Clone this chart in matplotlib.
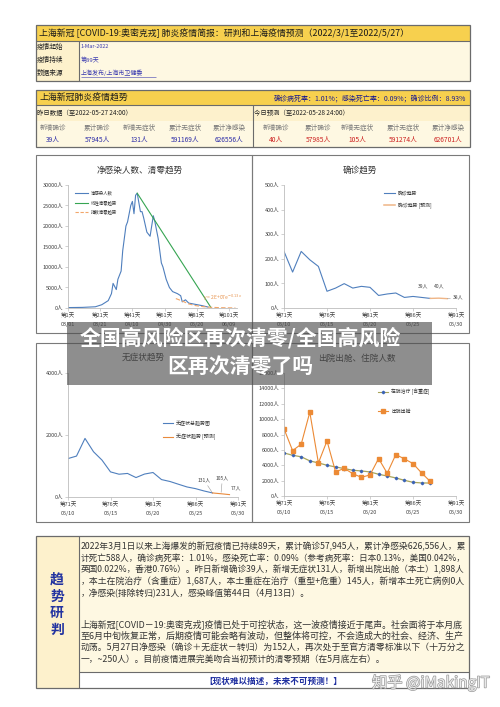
import matplotlib
matplotlib.use('Agg')
import matplotlib.pyplot as plt
from matplotlib.patches import Rectangle
import matplotlib.patheffects as pe

plt.rcParams['font.family'] = ['Noto Sans CJK SC', 'DejaVu Sans']

# ---------------- data ----------------
net_days = [1, 10, 18, 22, 26, 28, 29, 31, 32, 34, 35, 37, 38, 40, 41, 42, 43, 44, 46, 47,
            48, 50, 52, 54, 55, 57, 59, 60, 62, 64, 66, 69, 71, 72, 74, 76, 80, 84, 88]
net_vals = [100, 150, 300, 800, 1800, 3500, 6000, 4500, 7000, 9000, 14000, 20000, 21000, 25000,
            26000, 23000, 27500, 28000, 23500, 23500, 22000, 18500, 17500, 22500, 21000, 17000,
            11000, 10000, 7000, 5000, 4000, 3500, 3000, 1500, 2000, 1200, 900, 600, 231]
lin_days = [44, 90]
lin_vals = [28000, 0]
exp_days = [68, 72, 76, 80, 85, 90, 95, 100, 105]
exp_vals = [2300, 1700, 1000, 600, 320, 170, 90, 45, 25]
net_ticks = [1, 21, 41, 61, 81, 101]
net_dates = ['03/01', '03/21', '04/10', '04/30', '05/20', '06/09']

days = list(range(71, 89))
conf_vals = [230, 146, 230, 196, 169, 68, 81, 99, 81, 88, 84, 51, 57, 61, 43, 47, 43, 39]
conf_fc_days = [88, 89, 90]
conf_fc_vals = [39, 40, 38]

asym_vals = [1240, 1320, 1890, 1460, 1190, 810, 735, 760, 627, 740, 790, 562, 500, 411, 324, 270, 195, 131]
asym_fc_days = [88, 89, 90]
asym_fc_vals = [131, 105, 77]

hosp_vals = [5600, 5300, 5100, 4570, 4300, 4000, 3780, 3570, 3350, 3260, 3130, 2830, 2600, 2350,
             2040, 1780, 1700, 1687]
disc_vals = [8740, 5910, 6740, 10900, 4300, 7170, 3130, 3600, 2900, 2430, 2740, 4870, 2960, 5390,
             4830, 4220, 3000, 1898]

late_ticks = [71, 76, 81, 86, 91]
late_dates = ['05/10', '05/15', '05/20', '05/25', '05/30']

y_cols = ['新增确诊', '累计确诊', '新增无症状', '累计无症状', '累计净感染']
y_vals = ['39人', '57945人', '131人', '591169人', '626556人']
t_vals = ['40人', '57985人', '105人', '591274人', '626701人']

# ---------------- figure ----------------
W, H = 500, 707
fig = plt.figure(figsize=(5, 7.07), dpi=100)
fig.patch.set_facecolor('white')

bg = fig.add_axes([0, 0, 1, 1], zorder=0)
bg.set_xlim(0, W); bg.set_ylim(H, 0); bg.axis('off')
ov = fig.add_axes([0, 0, 1, 1], zorder=10)
ov.set_xlim(0, W); ov.set_ylim(H, 0); ov.axis('off'); ov.patch.set_alpha(0)

YEL = '#f7d04e'
CREAM = '#fdf1cc'
CREAM2 = '#fef8e2'
EDGE = '#6b6b6b'


def rect(ax, x0, y0, x1, y1, fc='none', ec='none', lw=0.8, **kw):
    ax.add_patch(Rectangle((x0, y0), x1 - x0, y1 - y0, facecolor=fc, edgecolor=ec,
                           linewidth=lw, **kw))


def hline(ax, x0, x1, y, c=EDGE, lw=0.8):
    ax.plot([x0, x1], [y, y], color=c, lw=lw, solid_capstyle='butt')


def vline(ax, x, y0, y1, c=EDGE, lw=0.8):
    ax.plot([x, x], [y0, y1], color=c, lw=lw, solid_capstyle='butt')


def txt(ax, x, y, s, size=5, color='#222222', ha='left', va='center', **kw):
    return ax.text(x, y, s, fontsize=size, color=color, ha=ha, va=va, **kw)


# ---- top info box ----
rect(bg, 36, 25, 470, 41, fc=YEL)
rect(bg, 36, 41, 470, 81, fc=CREAM2)
rect(bg, 36, 41, 79, 81, fc=CREAM)
rect(bg, 36, 25, 470, 81, ec=EDGE, lw=0.9)
hline(bg, 36, 470, 41)
vline(bg, 79, 41, 81)
txt(bg, 39, 33, '上海新冠 [COVID-19:奥密克戎] 肺炎疫情简报：研判和上海疫情预测（2022/3/1至2022/5/27）',
    size=6.4, color='#1a1a1a')
for yy, s in zip([47, 60, 73], ['疫情起始', '疫情持续', '数据来源']):
    txt(bg, 37, yy, s, size=4.8)
txt(bg, 81, 47, '1-Mar-2022', size=3.9, color='#3b3bb0')
txt(bg, 81, 60, '第89天', size=4.3, color='#3b3bb0')
lk = txt(bg, 81, 73, '上海发布/上海市卫健委', size=4.3, color='#3b3bb0')
hline(bg, 81, 156, 76.8, c='#3b3bb0', lw=0.4)

# ---- trend box ----
rect(bg, 36, 90, 470, 105, fc=YEL)
rect(bg, 36, 105, 470, 121, fc=CREAM)
rect(bg, 36, 121, 470, 147, fc=CREAM2)
rect(bg, 36, 90, 470, 147, ec=EDGE, lw=0.9)
hline(bg, 36, 470, 105)
vline(bg, 253, 105, 147)
txt(bg, 39, 98, '上海新冠肺炎疫情趋势', size=6.4, color='#1a1a1a')
txt(bg, 466, 98, '确诊病死率：1.01%；感染死亡率：0.09%；确诊比例：8.93%', size=5.0,
    color='#1c1c8e', ha='right')
txt(bg, 37, 113, '昨日数据（至2022-05-27 24:00）', size=4.6)
txt(bg, 254, 113, '今日预测（至2022-05-28 24:00）', size=4.6)
lx = [53, 97, 139, 185, 229]
rx = [276, 318, 357, 403, 448]
for i in range(5):
    txt(bg, lx[i], 128, y_cols[i], size=4.8, color='#7a7a7a', ha='center')
    txt(bg, rx[i], 128, y_cols[i], size=4.8, color='#7a7a7a', ha='center')
    txt(bg, lx[i], 140, y_vals[i], size=4.8, color='#2b2ba8', ha='center')
    txt(bg, rx[i], 140, t_vals[i], size=4.8, color='#cc2020', ha='center')

# ---- chart frames ----
for (x0, y0, x1, y1) in [(36, 155, 252, 333), (252, 155, 469, 333),
                         (36, 343, 252, 522), (252, 343, 469, 522)]:
    rect(bg, x0, y0, x1, y1, ec='#7a7a7a', lw=0.8)

TITLE_C = '#333333'
txt(bg, 140, 170, '净感染人数、清零趋势', size=6.2, color=TITLE_C, ha='center')
txt(bg, 360, 170, '确诊趋势', size=6.2, color=TITLE_C, ha='center')
txt(bg, 143, 357, '无症状趋势', size=6.2, color=TITLE_C, ha='center')
txt(bg, 357, 358, '出院出舱、住院人数', size=6.2, color=TITLE_C, ha='center')


def add_chart(x0, x1, y0, y1):
    a = fig.add_axes([x0 / W, 1 - y1 / H, (x1 - x0) / W, (y1 - y0) / H], zorder=2)
    a.patch.set_alpha(0)
    for s in ['top', 'right']:
        a.spines[s].set_visible(False)
    for s in ['left', 'bottom']:
        a.spines[s].set_color('#bdbdbd')
        a.spines[s].set_linewidth(0.6)
    a.tick_params(labelsize=4, colors='#bdbdbd', labelcolor='#404040', length=2,
                  width=0.5, pad=1.5)
    return a


def set_yticks(a, ticks):
    a.set_yticks(ticks)
    a.set_yticklabels([f'{t}人' for t in ticks])


def set_xticks(a, ticks, first, dates):
    a.set_xticks(ticks)
    a.set_xticklabels([f'第{t - first + 1 if first == 1 else t}天\n{d}' for t, d in zip(ticks, dates)])
    for lbl in a.get_xticklabels():
        lbl.set_linespacing(1.9)


BLUE = '#4f7fbd'

# ---- chart 1 ----
ax1 = add_chart(68, 237, 185, 308)
ax1.plot(net_days, net_vals, color=BLUE, lw=0.8)
ax1.plot(lin_days, lin_vals, color='#36a552', lw=0.8)
ax1.plot(exp_days, exp_vals, color='#f2a66a', lw=0.8, dashes=(4, 2))
ax1.set_xlim(1, 106); ax1.set_ylim(0, 30000)
set_yticks(ax1, list(range(0, 30001, 5000)))
set_xticks(ax1, net_ticks, 1, net_dates)
ax1.text(0.8, 0.085, r'y = 2E+07e$^{-0.13x}$', transform=ax1.transAxes, fontsize=3.6,
         color='#e8944f', ha='left', va='center')

# ---- chart 2 ----
ax2 = add_chart(284, 456, 185, 308)
ax2.plot(days, conf_vals, color=BLUE, lw=0.8)
ax2.plot(conf_fc_days, conf_fc_vals, color='#efb586', lw=1.0)
ax2.set_xlim(71, 91); ax2.set_ylim(0, 500)
set_yticks(ax2, list(range(0, 501, 100)))
set_xticks(ax2, late_ticks, 71, late_dates)
ax2.annotate('39人', (88, 39), xytext=(-5, 8), textcoords='offset points', fontsize=3.6,
             color='#404040', ha='center')
ax2.annotate('40人', (89, 40), xytext=(0, 8), textcoords='offset points', fontsize=3.6,
             color='#404040', ha='center')
ax2.annotate('38人', (90, 38), xytext=(8, 1), textcoords='offset points', fontsize=3.6,
             color='#404040', ha='center', va='center',
             arrowprops=dict(arrowstyle='-', color='#999999', lw=0.4, shrinkA=3, shrinkB=0))

# ---- chart 3 ----
ax3 = add_chart(68, 238, 373, 497)
ax3.plot(days, asym_vals, color=BLUE, lw=0.8)
ax3.plot(asym_fc_days, asym_fc_vals, color='#e98a3c', lw=0.8)
ax3.set_xlim(71, 91); ax3.set_ylim(0, 4000)
set_yticks(ax3, [0, 2000, 4000])
set_xticks(ax3, late_ticks, 71, late_dates)
ax3.annotate('131人', (88, 131), xytext=(-6, 8), textcoords='offset points', fontsize=3.6,
             color='#404040', ha='center',
             arrowprops=dict(arrowstyle='-', color='#999999', lw=0.4, shrinkA=0, shrinkB=1))
ax3.annotate('105人', (89, 105), xytext=(1, 10), textcoords='offset points', fontsize=3.6,
             color='#404040', ha='center',
             arrowprops=dict(arrowstyle='-', color='#999999', lw=0.4, shrinkA=0, shrinkB=1))
ax3.annotate('77人', (90, 77), xytext=(5, 4), textcoords='offset points', fontsize=3.6,
             color='#404040', ha='center')

# ---- chart 4 ----
ax4 = add_chart(284, 456, 373, 496)
ax4.plot(days, hosp_vals, color='#a8a45a', lw=0.9, marker='D', ms=1.3, mfc='#3a62b5',
         mec='#3a62b5')
ax4.plot(days, disc_vals, color='#ec8a35', lw=0.8, marker='s', ms=2.6, mfc='#ec8a35',
         mec='#ec8a35')
ax4.set_xlim(71, 91); ax4.set_ylim(0, 16000)
set_yticks(ax4, list(range(0, 16001, 2000)))
set_xticks(ax4, late_ticks, 71, late_dates)

# ---- legends (drawn on background layer) ----
def leg(x0, x1, y, color, label, size, dashes=None, marker=None, ms=2, mfc=None, lw=0.8):
    kw = {}
    if dashes:
        kw['dashes'] = dashes
    bg.plot([x0, x1], [y, y], color=color, lw=lw, **kw)
    if marker:
        bg.plot([(x0 + x1) / 2], [y], marker=marker, ms=ms, color=mfc or color, lw=0)
    txt(bg, x1 + 3, y, label, size=size, color='#333333')


leg(75, 88, 193, BLUE, '净感染人数', 3.2)
leg(75, 88, 203, '#36a552', '线性清零趋势', 3.2)
leg(75, 88, 212, '#f2a66a', '指数清零趋势', 3.2, dashes=(3, 1.5))
leg(384, 395, 193, BLUE, '确诊趋势', 3.5)
leg(384, 395, 205, '#efb586', '确诊趋势 [预测]', 3.5, lw=1.1)
leg(163, 173, 423, BLUE, '无症状总趋势图', 3.6)
leg(163, 173, 437, '#e98a3c', '无症状趋势 [预测]', 3.6)
leg(378, 388, 392, '#a8a45a', '在院治疗 [含重症]', 3.5, marker='D', ms=1.3, mfc='#3a62b5')
leg(378, 388, 411, '#ec8a35', '出院出舱', 3.5, marker='s', ms=2.6)

# ---- analysis box ----
rect(bg, 36, 536, 79, 688, fc=CREAM)
rect(bg, 79, 536, 469, 672, fc=CREAM2)
rect(bg, 79, 672, 469, 688, fc='white')
rect(bg, 36, 536, 469, 688, ec=EDGE, lw=0.9)
vline(bg, 79, 536, 688)
hline(bg, 79, 469, 672)
for yy, ch in zip([580, 597, 613, 630], '趋势研判'):
    txt(bg, 57, yy, ch, size=10, color='#2233a0', ha='center', weight='bold')

p1 = ['2022年3月1日以来上海爆发的新冠疫情已持续89天，累计确诊57,945人，累计净感染626,556人，累',
      '计死亡588人，确诊病死率：1.01%，感染死亡率：0.09%（参考病死率：日本0.13%，美国0.042%，',
      '英国0.022%，香港0.76%）。昨日新增确诊39人，新增无症状131人，新增出院出舱（本土）1,898人',
      '，本土在院治疗（含重症）1,687人，本土重症在治疗（重型+危重）145人，新增本土死亡病例0人',
      '，净感染(排除转归)231人，感染峰值第44日（4月13日）。']
p2 = ['上海新冠[COVID－19:奥密克戎]疫情已处于可控状态，这一波疫情接近于尾声。社会面将于本月底',
      '至6月中旬恢复正常，后期疫情可能会略有波动，但整体将可控，不会造成大的社会、经济、生产',
      '动荡。5月27日净感染（确诊＋无症状－转归）为152人，再次处于至官方清零标准以下（十万分之',
      '一，~250人）。目前疫情进展完美吻合当初预计的清零预期（在5月底左右）。']
p1_y = [547, 558.5, 570, 582, 594]
p2_y = [624, 636, 647, 659]

renderer = fig.canvas.get_renderer()
TARGET = 384.0
para_texts = []
for lines, ys in [(p1, p1_y), (p2, p2_y)]:
    objs = []
    for s, yy in zip(lines, ys):
        objs.append(txt(bg, 81, yy, s, size=6.2, color='#333333'))
    para_texts.append(objs)

sizes = []
for objs in para_texts:
    for t in objs[:-1]:
        w = t.get_window_extent(renderer).width
        ns = max(5.0, min(7.0, t.get_fontsize() * TARGET / w))
        t.set_fontsize(ns)
        sizes.append(ns)
avg = sum(sizes) / len(sizes)
for objs in para_texts:
    objs[-1].set_fontsize(avg)

txt(bg, 273, 681, '【现状难以描述，未来不可预测！】', size=6.2, color='#1f2fa0', ha='center',
    weight='bold')

# ---- overlay banner & watermark ----
rect(ov, 67, 322, 432, 385, fc='#4e4e4e', alpha=0.64)
txt(ov, 240, 338, '全国高风险区再次清零/全国高风险', size=15, color='white', ha='center',
    weight='bold')
txt(ov, 240, 366, '区再次清零了吗', size=15, color='white', ha='center', weight='bold')
txt(ov, 372, 683, '知乎 @iMakingIT', size=11, color='#ececec',
    path_effects=[pe.withStroke(linewidth=1.0, foreground='#9a9a9a')])

fig.savefig('out.png', dpi=100, facecolor='white')
